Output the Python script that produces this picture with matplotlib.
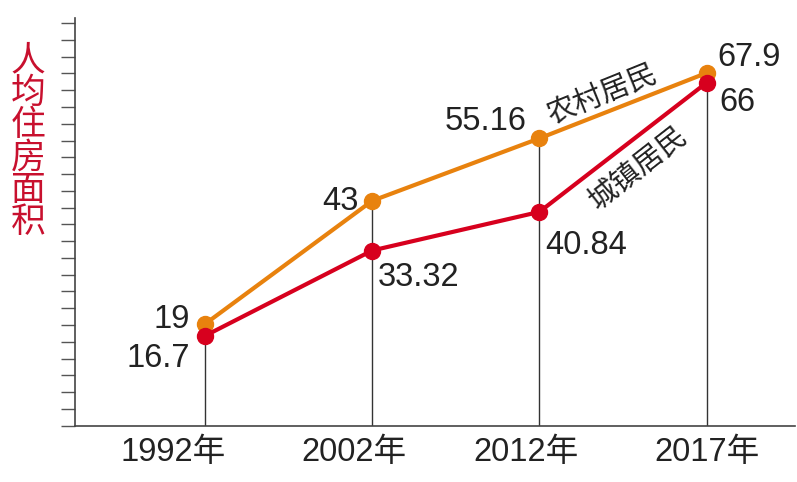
import matplotlib
matplotlib.use("Agg")
import matplotlib.pyplot as plt
import numpy as np

plt.rcParams['font.family'] = ['Liberation Sans', 'Noto Sans CJK SC', 'DejaVu Sans']

years = ['1992年', '2002年', '2012年', '2017年']
rural = [19, 43, 55.16, 67.9]
urban = [16.7, 33.32, 40.84, 66]
rural_labels = ['19', '43', '55.16', '67.9']
urban_labels = ['16.7', '33.32', '40.84', '66']

orange = '#E8820E'
red = '#D7001E'

fig = plt.figure(figsize=(7.97, 4.82), dpi=100)
ax = fig.add_axes([75/797, (482-425.7)/482, 720/797, (425.7-18)/482])

x = np.arange(len(years))
ymin, ymax = -0.8, 78.6

# thin drop lines from the upper point to the axis
tops = np.maximum(rural, urban)
ax.vlines(x, ymin, tops, color='#333333', lw=1.0, zorder=1)

ax.plot(x, rural, color=orange, lw=3, marker='o', ms=11.5, zorder=3)
ax.plot(x, urban, color=red, lw=3, marker='o', ms=11.5, zorder=4)

# value labels, offsets in pixels from the points
rural_off = [(-15, 5, 'right'), (-14, -1, 'right'), (-13, 17, 'right'), (11, 15, 'left')]
urban_off = [(-15, -23, 'right'), (6, -27, 'left'), (6, -34, 'left'), (13, -20, 'left')]
for i in range(len(years)):
    dx, dy, ha = rural_off[i]
    ax.annotate(rural_labels[i], (x[i], rural[i]), xytext=(dx, dy), textcoords='offset pixels',
                ha=ha, va='center', fontsize=23.5, color='#222222')
    dx, dy, ha = urban_off[i]
    ax.annotate(urban_labels[i], (x[i], urban[i]), xytext=(dx, dy), textcoords='offset pixels',
                ha=ha, va='center', fontsize=23.5, color='#222222')

ax.text(2.374, 63.6, '农村居民', rotation=22, ha='center', va='center', fontsize=21,
        color='#222222', rotation_mode='anchor')
ax.text(2.59, 49.4, '城镇居民', rotation=38, ha='center', va='center', fontsize=21,
        color='#222222', rotation_mode='anchor')

ax.set_xlim((75-205)/167.2, (795-205)/167.2)
ax.set_ylim(ymin, ymax)
# year labels sit a little left of the drop lines in the original
ax.set_xticks([-0.19, 0.89, 1.92, 3.0])
ax.set_xticklabels(years, fontsize=23.5, color='#222222')
ax.tick_params(axis='x', length=0, pad=8)
ax.set_yticks(ymin + 3.267*np.arange(25))
ax.set_yticklabels([])
ax.tick_params(axis='y', direction='out', length=10, width=1, color='#555555')

for s in ['top', 'right']:
    ax.spines[s].set_visible(False)
for s in ['left', 'bottom']:
    ax.spines[s].set_color('#444444')
    ax.spines[s].set_linewidth(1.2)

fig.text(28/797, 1-142/482, '\n'.join('人均住房面积'), ha='center', va='center',
         fontsize=25, color='#C8102E', linespacing=0.9, family=['Noto Sans CJK SC'])

fig.savefig('out.png', dpi=100)
